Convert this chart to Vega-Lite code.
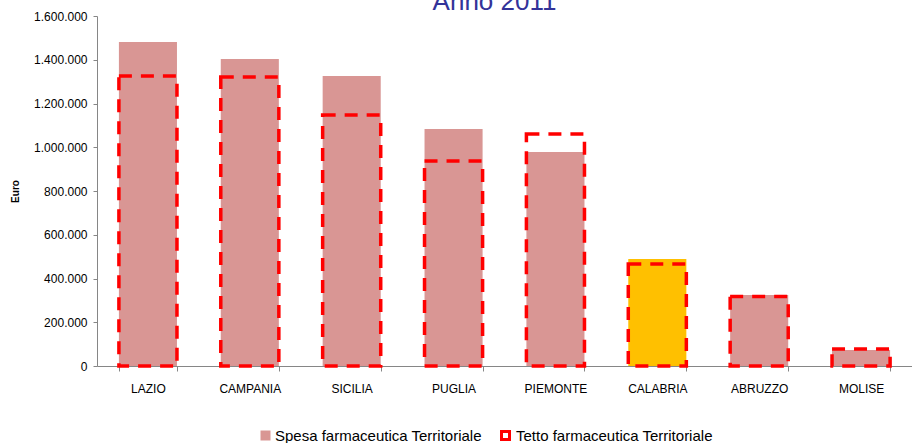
{
  "$schema": "https://vega.github.io/schema/vega-lite/v6.json",
  "autosize": "none",
  "width": 815,
  "height": 350,
  "padding": {"left": 97, "top": 16, "right": 0, "bottom": 77},
  "background": "white",
  "config": {
    "view": {"stroke": null},
    "font": "Liberation Sans",
    "locale": {"number": {"decimal": ",", "thousands": ".", "grouping": [3], "currency": ["€", ""]}}
  },
  "title": {
    "text": "Anno 2011",
    "color": "#333399",
    "fontSize": 26,
    "fontWeight": "normal",
    "font": "Liberation Sans",
    "baseline": "alphabetic",
    "offset": 0,
    "dy": 26,
    "anchor": "middle",
    "dx": -10
  },
  "data": {
    "values": [
      {"regione": "LAZIO", "spesa": 1481000, "tetto": 1326000},
      {"regione": "CAMPANIA", "spesa": 1403000, "tetto": 1321000},
      {"regione": "SICILIA", "spesa": 1326000, "tetto": 1147000},
      {"regione": "PUGLIA", "spesa": 1083000, "tetto": 937000},
      {"regione": "PIEMONTE", "spesa": 978000, "tetto": 1061000},
      {"regione": "CALABRIA", "spesa": 489000, "tetto": 466000},
      {"regione": "ABRUZZO", "spesa": 325000, "tetto": 318000},
      {"regione": "MOLISE", "spesa": 73000, "tetto": 78000}
    ]
  },
  "encoding": {
    "x": {
      "field": "regione",
      "type": "nominal",
      "sort": null,
      "scale": {"paddingInner": 0.43, "paddingOuter": 0.215},
      "axis": {
        "title": null,
        "labelAngle": 0,
        "labelFontSize": 12,
        "labelColor": "#000000",
        "labelPadding": 12,
        "tickBand": "extent",
        "tickSize": 5,
        "tickColor": "#868686",
        "domainColor": "#868686",
        "grid": false
      }
    }
  },
  "layer": [
    {
      "mark": {"type": "bar", "strokeWidth": 0},
      "encoding": {
        "y": {
          "field": "spesa",
          "type": "quantitative",
          "scale": {"domain": [0, 1600000], "nice": false},
          "axis": {
            "title": "Euro",
            "titleFontSize": 10,
            "titleFontWeight": "bold",
            "titleColor": "#000000",
            "titlePadding": 13,
            "values": [0, 200000, 400000, 600000, 800000, 1000000, 1200000, 1400000, 1600000],
            "format": ",d",
            "labelFontSize": 12,
            "labelColor": "#000000",
            "labelPadding": 6,
            "tickSize": 4,
            "tickColor": "#868686",
            "domainColor": "#868686",
            "grid": false
          }
        },
        "fill": {
          "condition": {"test": "datum.regione === 'CALABRIA'", "value": "#FFC000"},
          "datum": "Spesa farmaceutica Territoriale",
          "type": "nominal",
          "scale": {"range": ["#D99694"]},
          "legend": {
            "title": null,
            "orient": "none",
            "direction": "horizontal",
            "legendX": 161,
            "legendY": 412,
            "labelFontSize": 15,
            "labelLimit": 0,
            "labelColor": "#000000",
            "labelOffset": 2,
            "symbolSize": 100,
            "symbolType": "square",
            "symbolStrokeWidth": 0
          }
        }
      }
    },
    {
      "mark": {"type": "bar", "filled": false, "strokeWidth": 3.5, "strokeDash": [13, 9]},
      "encoding": {
        "y": {"field": "tetto", "type": "quantitative"},
        "stroke": {
          "datum": "Tetto farmaceutica Territoriale",
          "type": "nominal",
          "scale": {"range": ["#FF0000"]},
          "legend": {
            "title": null,
            "orient": "none",
            "direction": "horizontal",
            "legendX": 401,
            "legendY": 412,
            "labelFontSize": 15,
            "labelLimit": 0,
            "labelColor": "#000000",
            "labelOffset": 3,
            "symbolSize": 64,
            "symbolType": "square",
            "symbolStrokeWidth": 3,
            "symbolFillColor": "transparent"
          }
        }
      }
    }
  ]
}
